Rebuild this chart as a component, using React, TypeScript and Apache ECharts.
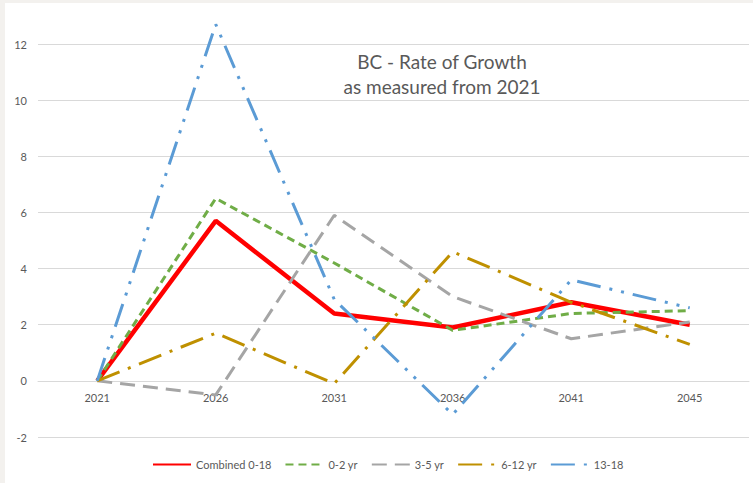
import React, { useEffect, useRef } from "react";
import * as echarts from "echarts";

const years = ["2021", "2026", "2031", "2036", "2041", "2045"];
const combined = [0, 5.7, 2.4, 1.9, 2.8, 2.0];
const age0to2 = [0, 6.5, 4.2, 1.8, 2.4, 2.5];
const age3to5 = [0, -0.5, 5.9, 3.0, 1.5, 2.1];
const age6to12 = [0, 1.7, -0.1, 4.6, 2.8, 1.3];
const age13to18 = [0, 12.7, 2.9, -1.2, 3.6, 2.6];
const seriesNames = ["Combined 0-18", "0-2 yr", "3-5 yr", "6-12 yr", "13-18"];
const titleLines = ["BC - Rate of Growth", "as measured from 2021"];

const FONT = "Lato, 'Liberation Sans', sans-serif";
const TEXT = "#595959";

export default function App() {
  const ref = useRef<HTMLDivElement>(null);
  useEffect(() => {
    if (!ref.current) return;
    const chart = echarts.init(ref.current, null, { renderer: "svg" });
    const styles = [
      { color: "#FF0000", width: 4.5, type: "solid" as any },
      { color: "#70AD47", width: 3, type: [8, 5] },
      { color: "#A5A5A5", width: 3, type: [15, 8] },
      { color: "#BF9000", width: 3, type: [24, 9, 3, 9] },
      { color: "#5B9BD5", width: 3, type: [24, 9, 3, 9, 3, 9] },
    ];
    const data = [combined, age0to2, age3to5, age6to12, age13to18];
    chart.setOption({
      animation: false,
      backgroundColor: "#FFFFFF",
      textStyle: { fontFamily: FONT },
      grid: { left: 33, right: 4, top: 41, bottom: 46, containLabel: false },
      graphic: [
        {
          type: "text",
          x: 437,
          y: 46,
          style: {
            text: titleLines.join("\n"),
            font: `19px ${FONT}`,
            fill: TEXT,
            textAlign: "center",
            lineHeight: 25,
          },
        },
      ],
      legend: {
        bottom: 8,
        left: 142,
        itemWidth: 38,
        itemHeight: 10,
        itemGap: 13,
        itemStyle: { opacity: 0 },
        textStyle: { color: TEXT, fontSize: 11, fontFamily: FONT },
        data: seriesNames,
      },
      xAxis: {
        type: "category",
        data: years,
        boundaryGap: true,
        axisLine: { onZero: true, lineStyle: { color: "#D9D9D9", width: 1 } },
        axisTick: { show: false },
        axisLabel: { color: TEXT, fontSize: 11, fontFamily: FONT, margin: -45 },
      },
      yAxis: {
        type: "value",
        min: -2,
        max: 12,
        interval: 2,
        axisLine: { show: false },
        axisTick: { show: false },
        axisLabel: { color: TEXT, fontSize: 11, fontFamily: FONT, margin: 11 },
        splitLine: { lineStyle: { color: "#D9D9D9", width: 1 } },
      },
      series: seriesNames.map((name, i) => ({
        name,
        type: "line",
        data: data[i],
        symbol: "none",
        clip: false,
        color: styles[i].color,
        lineStyle: styles[i],
        z: 2 + i,
      })),
    });
    return () => chart.dispose();
  }, []);
  return (
    <div
      style={{
        position: "fixed",
        left: 0,
        top: 0,
        width: 753,
        height: 483,
        background: "#F3F1EE",
      }}
    >
      <div
        ref={ref}
        style={{ position: "absolute", left: 5, top: 3, width: 748, height: 480 }}
      />
    </div>
  );
}
